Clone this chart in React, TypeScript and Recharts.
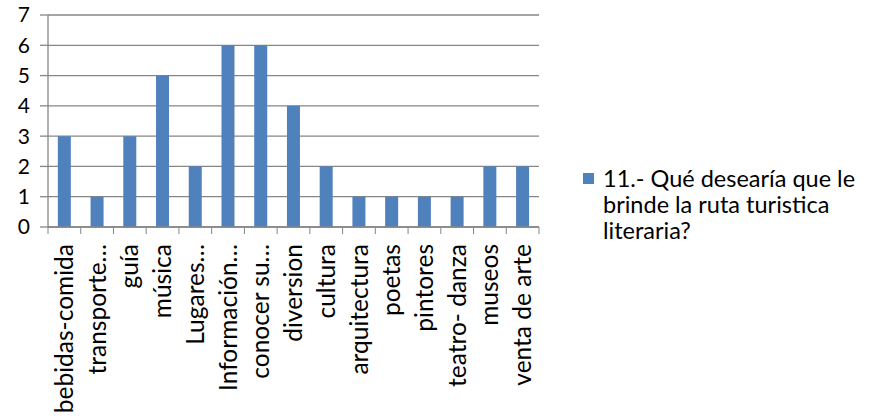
import { BarChart, Bar, XAxis, YAxis, CartesianGrid, Legend } from 'recharts';

const categories = [
  'bebidas-comida', 'transporte…', 'guía', 'música', 'Lugares…', 'Información…', 'conocer su…',
  'diversion', 'cultura', 'arquitectura', 'poetas', 'pintores', 'teatro- danza', 'museos', 'venta de arte',
];
const values = [3, 1, 3, 5, 2, 6, 6, 4, 2, 1, 1, 1, 1, 2, 2];
const yTicks = [0, 1, 2, 3, 4, 5, 6, 7];
const seriesName = '11.- Qué desearía que le brinde la ruta turistica literaria?';
const legendLines = ['11.- Qué desearía que le', 'brinde la ruta turistica', 'literaria?'];

const data = categories.map((c, i) => ({ category: c, value: values[i] }));

const W = 871;
const H = 420;
const LEFT = 48;
const RIGHT = 332;
const TOP = 15;
const AXIS_H = 193;
const BAND = (W - LEFT - RIGHT) / categories.length;
const GRAY = '#868686';
const BLUE = '#4F81BD';

function CategoryTick(props: any) {
  const { x, y, payload, index } = props;
  const ty = y + 17;
  return (
    <g>
      <line x1={x - BAND / 2} x2={x - BAND / 2} y1={y} y2={y + 7} stroke={GRAY} />
      {index === categories.length - 1 && (
        <line x1={x + BAND / 2} x2={x + BAND / 2} y1={y} y2={y + 7} stroke={GRAY} />
      )}
      <text
        x={x}
        y={ty}
        dy="0.35em"
        textAnchor="end"
        fontSize={24.5}
        fill="#000"
        transform={`rotate(-90, ${x}, ${ty})`}
      >
        {payload.value}
      </text>
    </g>
  );
}

function LegendBox() {
  return (
    <div style={{ display: 'flex', alignItems: 'flex-start', fontFamily: 'Lato', fontSize: 23.5, color: '#000' }}>
      <div style={{ width: 11, height: 11, background: BLUE, marginTop: 8, marginRight: 9, flex: 'none' }} />
      <div style={{ lineHeight: '26px', whiteSpace: 'nowrap' }}>
        {legendLines.map((l) => (
          <div key={l}>{l}</div>
        ))}
      </div>
    </div>
  );
}

export default function App() {
  return (
    <div style={{ position: 'absolute', left: 0, top: 0, fontFamily: 'Lato' }}>
      <BarChart
        width={W}
        height={H}
        data={data}
        margin={{ top: TOP, right: RIGHT, bottom: 0, left: 0 }}
        barCategoryGap="30%"
      >
        <CartesianGrid vertical={false} stroke={GRAY} strokeWidth={1.3} />
        <XAxis
          dataKey="category"
          interval={0}
          height={AXIS_H}
          tickSize={0}
          tickMargin={0}
          tickLine={false}
          stroke={GRAY}
          strokeWidth={1.3}
          tick={<CategoryTick />}
        />
        <YAxis
          width={LEFT}
          domain={[0, 7]}
          ticks={yTicks}
          interval={0}
          tickSize={8}
          tickMargin={10}
          stroke={GRAY}
          strokeWidth={1.3}
          tick={{ fill: '#000', fontSize: 21 }}
        />
        <Legend
          layout="horizontal"
          verticalAlign="middle"
          align="center"
          wrapperStyle={{ left: 583, top: 165, width: 288 }}
          content={<LegendBox />}
        />
        <Bar dataKey="value" name={seriesName} fill={BLUE} isAnimationActive={false} />
      </BarChart>
    </div>
  );
}
